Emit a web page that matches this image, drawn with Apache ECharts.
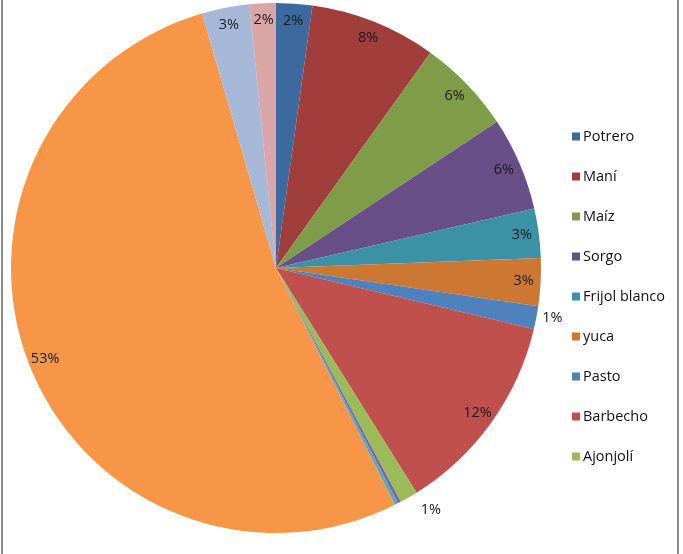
<!DOCTYPE html>
<html>
<head>
<meta charset="utf-8">
<script src="https://cdn.jsdelivr.net/npm/echarts@6/dist/echarts.min.js"></script>
<style>
  html, body { margin: 0; padding: 0; background: #fff; }
  #chart { position: absolute; left: 1px; top: 0; width: 678px; height: 554px;
           border-left: 2px solid #8c8c8c; border-right: 2px solid #8c8c8c; box-sizing: border-box; }
</style>
</head>
<body>
<div id="chart"></div>
<script>
// slices in clockwise order from 12 o'clock (percent of total)
const names = ["Potrero", "Maní", "Maíz", "Sorgo", "Frijol blanco", "yuca", "Pasto", "Barbecho", "Ajonjolí",
  "Serie 10", "Serie 11", "Serie 12", "Serie 13", "Serie 14"];
const values = [2.2, 7.7, 5.8, 5.7, 3.0, 2.9, 1.4, 12.4, 1.1, 0.2, 0.2, 52.9, 2.9, 1.6];
const colors = ["#3d6a9e", "#a03e3b", "#7f9c48", "#684f88", "#3b91a6", "#cc7833", "#4f81bd", "#c0504d", "#9bbb59",
  "#8064a2", "#4bacc6", "#f79646", "#a6b8d8", "#d9a6a5"];
// first nine shown in the legend (rest are cut off in the original)
const legendNames = names.slice(0, 9);
// small slices get their label just outside the rim
const outsideLabels = { "Pasto": 1, "Ajonjolí": 14 };
const hiddenLabels = ["Serie 10", "Serie 11"];

const total = values.reduce((a, b) => a + b, 0);

const sliceData = names.map((name, i) => ({
  name: name,
  value: values[i],
  itemStyle: { color: colors[i] }
}));

const labelData = names.map((name, i) => {
  const item = { name: name, value: values[i] };
  if (hiddenLabels.includes(name)) {
    item.label = { show: false };
  } else if (outsideLabels[name] !== undefined) {
    item.label = { position: "outside" };
    item.labelLine = { show: false, length: outsideLabels[name], length2: 0 };
  }
  return item;
});

const chart = echarts.init(document.getElementById("chart"));
chart.setOption({
  animation: false,
  color: colors,
  legend: {
    data: legendNames,
    orient: "vertical",
    left: 564,
    top: 124,
    itemWidth: 8,
    itemHeight: 8,
    itemGap: 25,
    icon: "rect",
    textStyle: { fontFamily: "Open Sans", fontSize: 14.5, lineHeight: 15, color: "#111", padding: [0, 0, 0, -2] }
  },
  series: [
    {
      type: "pie",
      center: [273, 268],
      radius: 265,
      startAngle: 90,
      clockwise: true,
      silent: true,
      label: { show: false },
      labelLine: { show: false },
      data: sliceData
    },
    {
      // transparent ring carrying the percentage labels near the rim
      type: "pie",
      center: [273, 268],
      radius: [225, 265],
      startAngle: 90,
      clockwise: true,
      silent: true,
      legendHoverLink: false,
      itemStyle: { color: "rgba(0,0,0,0)" },
      label: {
        show: true,
        position: "inside",
        fontFamily: "Open Sans",
        fontSize: 14.5,
        color: "#1a1a1a",
        formatter: (p) => Math.round(p.value / total * 100) + "%"
      },
      labelLine: { show: false },
      data: labelData
    }
  ]
});
</script>
</body>
</html>
